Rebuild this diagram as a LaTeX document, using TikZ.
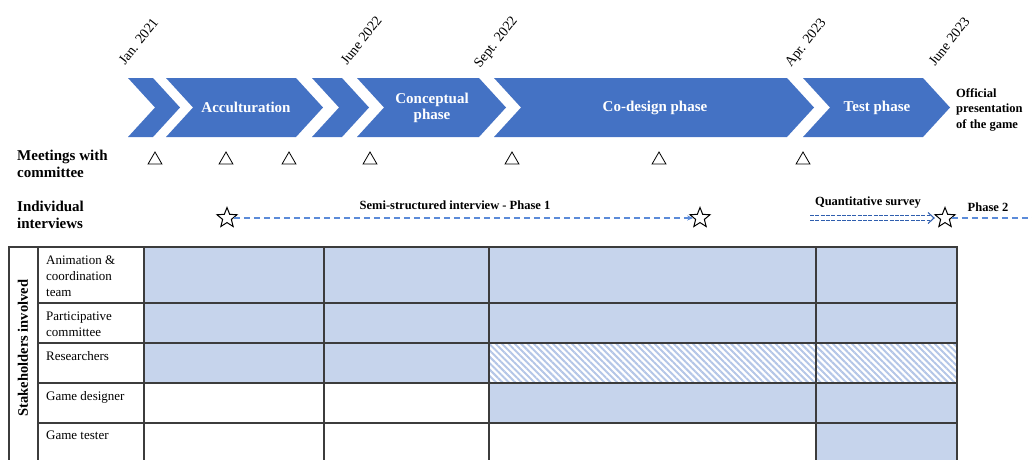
\documentclass[tikz,border=0pt]{standalone}
\usepackage{fontspec}
\setmainfont{Liberation Serif}
\usetikzlibrary{shapes.geometric,arrows.meta,patterns.meta}
\definecolor{chev}{HTML}{4472C4}
\definecolor{cellblue}{HTML}{C6D4EC}
\definecolor{hatchblue}{HTML}{B4C6E7}
\definecolor{dashblue}{HTML}{5B8BD9}
\definecolor{dblue}{HTML}{2F5EAE}
\definecolor{gridc}{HTML}{3C3C3C}
\newcommand\chevshape[2]{\fill[chev] (#1,78) -- (#2,78) -- ++(27,29.5) -- (#2,137) -- (#1,137) -- ++(27,-29.5) -- cycle;}
\tikzset{
  phase/.style={text=white,font=\fontsize{15}{16}\selectfont\bfseries,align=center,inner sep=0},
  datelab/.style={font=\fontsize{14}{16}\selectfont,rotate=52,anchor=base west,inner sep=0},
  tri/.style={regular polygon,regular polygon sides=3,draw=black,line width=0.8pt,minimum size=16pt,inner sep=0},
  starmark/.style={star,star points=5,star point ratio=2.3,draw=black,line width=1pt,minimum size=21pt,inner sep=0},
  sidelab/.style={font=\fontsize{15}{17}\selectfont\bfseries,align=left,anchor=north west,inner sep=0},
  smalllab/.style={font=\fontsize{12.5}{14}\selectfont\bfseries,inner sep=0},
  rowlab/.style={font=\fontsize{13}{16}\selectfont,align=left,anchor=north west,inner sep=0},
  dashline/.style={dashblue,line width=1.4pt,dash pattern=on 6pt off 4pt},
  qline/.style={dblue,line width=1.2pt,dash pattern=on 4pt off 1.3pt},
  gridline/.style={gridc,line width=1.1pt},
}
\begin{document}
\begin{tikzpicture}[x=1pt,y=-1pt]
\useasboundingbox (0,0) rectangle (1032,459);
\clip (0,0) rectangle (1032,459);
% chevrons
\chevshape{128}{153}
\chevshape{166}{296}
\chevshape{312}{342}
\chevshape{357}{479}
\chevshape{494}{787}
\chevshape{803}{923}
\node[phase] (acc) at (246,107.5) {Acculturation};
\node[phase] (conc) at (432,108) {Conceptual\\phase};
\node[phase] (cod) at (655,107.5) {Co-design phase};
\node[phase] (test) at (877,107.5) {Test phase};
\node[font=\fontsize{12.5}{15.5}\selectfont\bfseries,align=left,anchor=north west,inner sep=0] (off) at (956,88) {Official\\presentation\\of the game};
% dates
\node[datelab] (d1) at (125,66) {Jan. 2021};
\node[datelab] (d2) at (347,66) {June 2022};
\node[datelab] (d3) at (480,69) {Sept. 2022};
\node[datelab] (d4) at (791,68) {Apr. 2023};
\node[datelab] (d5) at (935,67) {June 2023};
% meetings
\node[sidelab] (meet) at (17,150) {Meetings with\\committee};
\foreach \x [count=\i] in {155,226,289,370,512,659,803}
  \node[tri] (m\i) at (\x,160) {};
% interviews
\node[sidelab] (indiv) at (17,201) {Individual\\interviews};
\node[starmark] (s1) at (227,218) {};
\node[starmark] (s2) at (700,218) {};
\node[starmark] (s3) at (945,218) {};
\node[smalllab] (semi) at (455,205) {Semi-structured interview - Phase 1};
\draw[dashline,-{Stealth[length=6pt,width=5pt]}] (s1) -- (s2);
\node[smalllab] (quant) at (868,203) {Quantitative survey};
\coordinate (q0) at (810,218);
\coordinate (qtip) at (934,218);
\draw[qline] ([yshift=-2.3pt]q0) -- ([xshift=-4pt,yshift=-2.3pt]qtip);
\draw[qline] ([yshift=2.3pt]q0) -- ([xshift=-4pt,yshift=2.3pt]qtip);
\draw[dblue,line width=1.1pt] ([xshift=-6pt,yshift=-5.5pt]qtip) -- (qtip) -- ([xshift=-6pt,yshift=5.5pt]qtip);
\node[smalllab] (ph2) at (988,207) {Phase 2};
\coordinate (pend) at (1032,218);
\draw[dashline] (s3) -- (pend);
% table fills
\fill[cellblue] (144,247) rectangle (957,343);
\fill[cellblue] (144,343) rectangle (489,383);
\fill[pattern={Lines[angle=-45,distance=4.5pt,line width=2pt]},pattern color=hatchblue] (489,343) rectangle (957,383);
\fill[cellblue] (489,383) rectangle (957,423);
\fill[cellblue] (816,423) rectangle (957,470);
% grid
\draw[gridline] (9,470) -- (9,247) -- (957,247) -- (957,470);
\foreach \x in {38,144,324,489,816}
  \draw[gridline] (\x,247) -- (\x,470);
\foreach \y in {303,343,383,423}
  \draw[gridline] (38,\y) -- (957,\y);
% labels
\node[font=\fontsize{14.5}{16}\selectfont\bfseries,rotate=90,inner sep=0] (stk) at (23,348) {Stakeholders involved};
\node[rowlab] (r1) at (46,256) {Animation \&\\coordination\\team};
\node[rowlab] (r2) at (46,312) {Participative\\committee};
\node[rowlab] (r3) at (46,351) {Researchers};
\node[rowlab] (r4) at (46,391) {Game designer};
\node[rowlab] (r5) at (46,431) {Game tester};
\end{tikzpicture}
\end{document}
